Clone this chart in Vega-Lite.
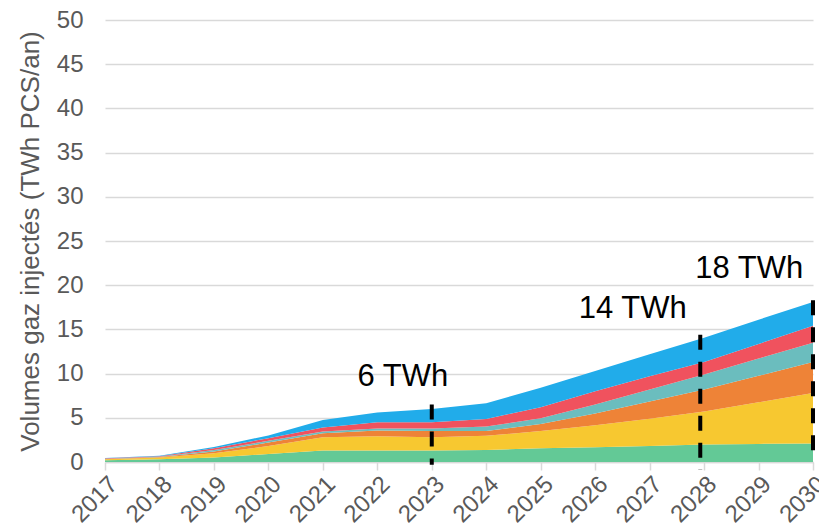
{
  "$schema": "https://vega.github.io/schema/vega-lite/v6.json",
  "width": 708,
  "height": 442,
  "autosize": {"type": "none"},
  "padding": {"left": 105, "top": 20, "right": 6, "bottom": 67},
  "background": "white",
  "config": {
    "view": {"stroke": null},
    "font": "Liberation Sans",
    "axis": {"labelFont": "Liberation Sans", "titleFont": "Liberation Sans", "labelColor": "#595959", "titleColor": "#595959"}
  },
  "datasets": {
    "main": [
      {"year": 2017, "series": "s1", "ord": 1, "value": 0.2},
      {"year": 2017, "series": "s2", "ord": 2, "value": 0.1},
      {"year": 2017, "series": "s3", "ord": 3, "value": 0.05},
      {"year": 2017, "series": "s4", "ord": 4, "value": 0.03},
      {"year": 2017, "series": "s5", "ord": 5, "value": 0.04},
      {"year": 2017, "series": "s6", "ord": 6, "value": 0.03},
      {"year": 2018, "series": "s1", "ord": 1, "value": 0.3},
      {"year": 2018, "series": "s2", "ord": 2, "value": 0.2},
      {"year": 2018, "series": "s3", "ord": 3, "value": 0.06},
      {"year": 2018, "series": "s4", "ord": 4, "value": 0.04},
      {"year": 2018, "series": "s5", "ord": 5, "value": 0.06},
      {"year": 2018, "series": "s6", "ord": 6, "value": 0.04},
      {"year": 2019, "series": "s1", "ord": 1, "value": 0.5},
      {"year": 2019, "series": "s2", "ord": 2, "value": 0.5},
      {"year": 2019, "series": "s3", "ord": 3, "value": 0.2},
      {"year": 2019, "series": "s4", "ord": 4, "value": 0.15},
      {"year": 2019, "series": "s5", "ord": 5, "value": 0.2},
      {"year": 2019, "series": "s6", "ord": 6, "value": 0.15},
      {"year": 2020, "series": "s1", "ord": 1, "value": 0.9},
      {"year": 2020, "series": "s2", "ord": 2, "value": 0.9},
      {"year": 2020, "series": "s3", "ord": 3, "value": 0.4},
      {"year": 2020, "series": "s4", "ord": 4, "value": 0.2},
      {"year": 2020, "series": "s5", "ord": 5, "value": 0.3},
      {"year": 2020, "series": "s6", "ord": 6, "value": 0.3},
      {"year": 2021, "series": "s1", "ord": 1, "value": 1.3},
      {"year": 2021, "series": "s2", "ord": 2, "value": 1.5},
      {"year": 2021, "series": "s3", "ord": 3, "value": 0.45},
      {"year": 2021, "series": "s4", "ord": 4, "value": 0.2},
      {"year": 2021, "series": "s5", "ord": 5, "value": 0.45},
      {"year": 2021, "series": "s6", "ord": 6, "value": 0.85},
      {"year": 2022, "series": "s1", "ord": 1, "value": 1.3},
      {"year": 2022, "series": "s2", "ord": 2, "value": 1.6},
      {"year": 2022, "series": "s3", "ord": 3, "value": 0.65},
      {"year": 2022, "series": "s4", "ord": 4, "value": 0.25},
      {"year": 2022, "series": "s5", "ord": 5, "value": 0.7},
      {"year": 2022, "series": "s6", "ord": 6, "value": 1.1},
      {"year": 2023, "series": "s1", "ord": 1, "value": 1.3},
      {"year": 2023, "series": "s2", "ord": 2, "value": 1.5},
      {"year": 2023, "series": "s3", "ord": 3, "value": 0.7},
      {"year": 2023, "series": "s4", "ord": 4, "value": 0.3},
      {"year": 2023, "series": "s5", "ord": 5, "value": 0.7},
      {"year": 2023, "series": "s6", "ord": 6, "value": 1.5},
      {"year": 2024, "series": "s1", "ord": 1, "value": 1.36},
      {"year": 2024, "series": "s2", "ord": 2, "value": 1.6},
      {"year": 2024, "series": "s3", "ord": 3, "value": 0.55},
      {"year": 2024, "series": "s4", "ord": 4, "value": 0.5},
      {"year": 2024, "series": "s5", "ord": 5, "value": 0.85},
      {"year": 2024, "series": "s6", "ord": 6, "value": 1.8},
      {"year": 2025, "series": "s1", "ord": 1, "value": 1.55},
      {"year": 2025, "series": "s2", "ord": 2, "value": 1.95},
      {"year": 2025, "series": "s3", "ord": 3, "value": 0.8},
      {"year": 2025, "series": "s4", "ord": 4, "value": 0.66},
      {"year": 2025, "series": "s5", "ord": 5, "value": 1.24},
      {"year": 2025, "series": "s6", "ord": 6, "value": 2.2},
      {"year": 2026, "series": "s1", "ord": 1, "value": 1.67},
      {"year": 2026, "series": "s2", "ord": 2, "value": 2.5},
      {"year": 2026, "series": "s3", "ord": 3, "value": 1.33},
      {"year": 2026, "series": "s4", "ord": 4, "value": 1.0},
      {"year": 2026, "series": "s5", "ord": 5, "value": 1.5},
      {"year": 2026, "series": "s6", "ord": 6, "value": 2.3},
      {"year": 2027, "series": "s1", "ord": 1, "value": 1.8},
      {"year": 2027, "series": "s2", "ord": 2, "value": 3.1},
      {"year": 2027, "series": "s3", "ord": 3, "value": 1.95},
      {"year": 2027, "series": "s4", "ord": 4, "value": 1.35},
      {"year": 2027, "series": "s5", "ord": 5, "value": 1.5},
      {"year": 2027, "series": "s6", "ord": 6, "value": 2.5},
      {"year": 2028, "series": "s1", "ord": 1, "value": 1.97},
      {"year": 2028, "series": "s2", "ord": 2, "value": 3.73},
      {"year": 2028, "series": "s3", "ord": 3, "value": 2.5},
      {"year": 2028, "series": "s4", "ord": 4, "value": 1.7},
      {"year": 2028, "series": "s5", "ord": 5, "value": 1.4},
      {"year": 2028, "series": "s6", "ord": 6, "value": 2.75},
      {"year": 2029, "series": "s1", "ord": 1, "value": 2.05},
      {"year": 2029, "series": "s2", "ord": 2, "value": 4.7},
      {"year": 2029, "series": "s3", "ord": 3, "value": 3.0},
      {"year": 2029, "series": "s4", "ord": 4, "value": 1.95},
      {"year": 2029, "series": "s5", "ord": 5, "value": 1.65},
      {"year": 2029, "series": "s6", "ord": 6, "value": 2.75},
      {"year": 2030, "series": "s1", "ord": 1, "value": 2.1},
      {"year": 2030, "series": "s2", "ord": 2, "value": 5.7},
      {"year": 2030, "series": "s3", "ord": 3, "value": 3.5},
      {"year": 2030, "series": "s4", "ord": 4, "value": 2.2},
      {"year": 2030, "series": "s5", "ord": 5, "value": 1.9},
      {"year": 2030, "series": "s6", "ord": 6, "value": 2.7}
    ],
    "rules": [
      {"year": 2023, "y0": -0.3, "y1": 6.5},
      {"year": 2027.93, "y0": -0.9, "y1": 14.4},
      {"year": 2030, "y0": 0, "y1": 18.3}
    ],
    "labels": [
      {"x": 2022.47, "y": 9.6, "label": "6 TWh"},
      {"x": 2026.69, "y": 17.3, "label": "14 TWh"},
      {"x": 2028.83, "y": 21.8, "label": "18 TWh"}
    ]
  },
  "layer": [
    {
      "data": {"name": "main"},
      "mark": {"type": "area", "interpolate": "linear"},
      "encoding": {
        "x": {
          "field": "year", "type": "quantitative",
          "scale": {"domain": [2017, 2030], "nice": false, "zero": false},
          "axis": {
            "title": null, "values": [2017,2018,2019,2020,2021,2022,2023,2024,2025,2026,2027,2028,2029,2030],
            "format": "d", "labelAngle": -45, "labelFontSize": 24, "grid": false,
            "tickColor": "#d9d9d9", "tickSize": 8, "tickWidth": 1.5, "domainColor": "#d9d9d9", "domainWidth": 1.5,
            "labelPadding": 2, "labelFlush": false, "labelOverlap": false
          }
        },
        "y": {
          "field": "value", "type": "quantitative", "stack": "zero",
          "scale": {"domain": [0, 50], "nice": false},
          "axis": {
            "title": "Volumes gaz injectés (TWh PCS/an)", "titleFontSize": 26, "titleFontWeight": "normal",
            "titlePadding": 13,
            "values": [0,5,10,15,20,25,30,35,40,45,50], "labelFontSize": 24,
            "ticks": false, "domain": false, "labelPadding": 22,
            "gridColor": "#d9d9d9", "gridWidth": 1.5
          }
        },
        "color": {
          "field": "series", "type": "nominal", "legend": null,
          "scale": {"domain": ["s1","s2","s3","s4","s5","s6"], "range": ["#63c996", "#f7c830", "#ee8337", "#6bbdbe", "#f0525e", "#21acea"]}
        },
        "order": {"field": "ord", "type": "quantitative", "sort": "ascending"}
      }
    },
    {
      "data": {"name": "rules"},
      "mark": {"type": "rule", "color": "black", "strokeWidth": 4, "strokeDash": [15, 12]},
      "encoding": {
        "x": {"field": "year", "type": "quantitative"},
        "y": {"field": "y1", "type": "quantitative"},
        "y2": {"field": "y0"}
      }
    },
    {
      "data": {"name": "labels"},
      "mark": {"type": "text", "fontSize": 31, "color": "black", "align": "center", "baseline": "middle"},
      "encoding": {
        "x": {"field": "x", "type": "quantitative"},
        "y": {"field": "y", "type": "quantitative"},
        "text": {"field": "label"}
      }
    }
  ]
}
